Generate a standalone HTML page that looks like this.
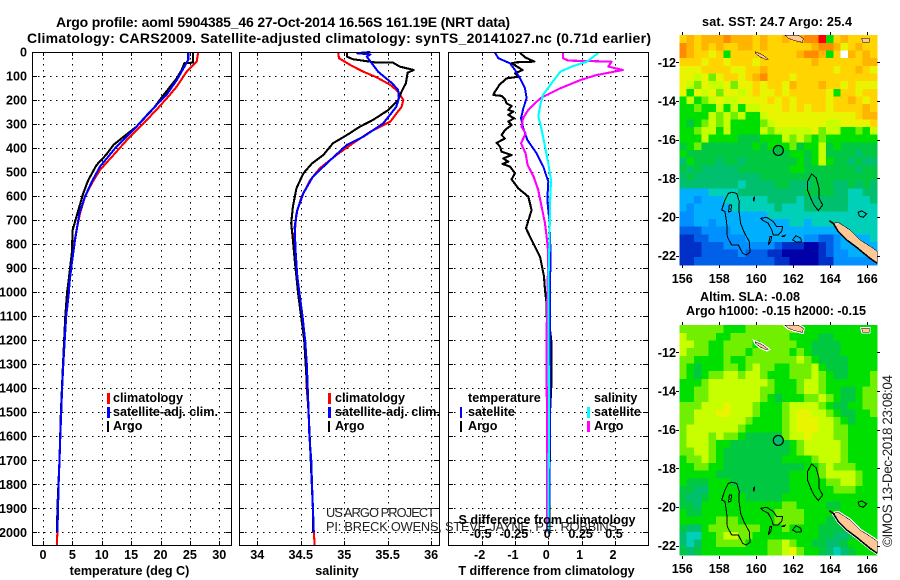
<!DOCTYPE html>
<html lang="en"><head><meta charset="utf-8"><title>Argo profile</title>
<style>
html,body{margin:0;padding:0;background:#fff}
svg{display:block}
text{font-family:"Liberation Sans",sans-serif;fill:#000}
.b{font-weight:bold;font-size:12.6px}
.t{font-weight:bold;font-size:14px}
.r{font-size:12.8px;fill:#222}
</style></head>
<body>
<svg id="chart" xmlns="http://www.w3.org/2000/svg" width="900" height="580" viewBox="0 0 900 580">
<text class="t" x="56" y="27" textLength="454">Argo profile: aoml 5904385_46 27-Oct-2014 16.56S 161.19E (NRT data)</text>
<text class="t" x="27" y="43" textLength="624">Climatology: CARS2009. Satellite-adjusted climatology: synTS_20141027.nc (0.71d earlier)</text>
<text class="b" x="129.5" y="575" text-anchor="middle">temperature (deg C)</text>
<text class="b" x="337" y="575" text-anchor="middle">salinity</text>
<text class="b" x="546.5" y="575" text-anchor="middle">T difference from climatology</text>
<g id="panels"></g>
<g id="maps"></g>
<text class="r" x="326" y="517" textLength="109">US ARGO PROJECT</text>
<text class="r" x="326" y="531" textLength="291">PI: BRECK OWENS, STEVE JAYNE, P.E. ROBBINS</text>
<text class="b" x="547" y="524" text-anchor="middle">S difference from climatology</text>
<g>
<rect x="107" y="393" width="3" height="11" fill="#f00"/><text class="b" x="113" y="402">climatology</text>
<rect x="107" y="407" width="3" height="11" fill="#00f"/><text class="b" x="113" y="416">satellite-adj. clim.</text>
<rect x="107" y="421" width="2" height="11" fill="#000"/><text class="b" x="113" y="430">Argo</text>
</g>
<g>
<rect x="328" y="393" width="3" height="11" fill="#f00"/><text class="b" x="335" y="402">climatology</text>
<rect x="328" y="407" width="3" height="11" fill="#00f"/><text class="b" x="335" y="416">satellite-adj. clim.</text>
<rect x="328" y="421" width="2" height="11" fill="#000"/><text class="b" x="335" y="430">Argo</text>
</g>
<g>
<text class="b" x="468" y="402">temperature</text>
<rect x="460" y="407" width="2" height="11" fill="#00f"/><text class="b" x="468" y="416">satellite</text>
<rect x="460" y="421" width="2" height="11" fill="#000"/><text class="b" x="468" y="430">Argo</text>
<text class="b" x="594" y="402">salinity</text>
<rect x="587" y="407" width="3" height="11" fill="#0ff"/><text class="b" x="594" y="416">satellite</text>
<rect x="587" y="421" width="3" height="11" fill="#f0f"/><text class="b" x="594" y="430">Argo</text>
</g>
<text class="b" x="777" y="26" text-anchor="middle" textLength="150">sat. SST: 24.7 Argo: 25.4</text>
<text class="b" x="750" y="301" text-anchor="middle" textLength="100">Altim. SLA: -0.08</text>
<text class="b" x="776" y="315" text-anchor="middle" textLength="180">Argo h1000: -0.15 h2000: -0.15</text>
<text x="0" y="0" font-size="13.5" transform="translate(892,547) rotate(-90)" textLength="172" style="fill:#222">©IMOS 13-Dec-2018 23:08:04</text>
</svg>
<script>
// ---------- profile data: depths in dbar ----------
const depthTicks = [0,100,200,300,400,500,600,700,800,900,1000,1100,1200,1300,1400,1500,1600,1700,1800,1900,2000];
const tempTicks = [0,5,10,15,20,25,30];
const salTicks = [34,34.5,35,35.5,36];
const salTickLabels = ['34','34.5','35','35.5','36'];
const dtTicks = [-2,-1,0,1,2];
const dsTicks = [-0.5,-0.25,0,0.25,0.5];
const dsTickLabels = ['-0.5','-0.25','0','0.25','0.5'];

const tempClimDepth = [0,40,82,144,186,241,297,360,429,491,547,602,672,755,838,963,1000,1100,1200,1300,1400,1500,1600,1700,1800,1900,2000,2053];
const tempClim = [26.4,26.15,24.45,22.75,21.3,19.3,17.1,14.5,12.0,9.7,8.3,7.15,6.3,5.6,5.05,4.5,4.3,3.9,3.7,3.45,3.25,3.05,2.95,2.8,2.65,2.55,2.45,2.35];
const tempSatDepth = [0,33,68,117,179,248,325,394,477,540,602,672,783,880,963,1000,1100,1200,1300,1400,1500,1600,1700,1800,1900,2000];
const tempSat = [24.7,24.7,23.9,22.75,21.0,18.2,15.4,12.5,9.7,8.3,7.15,6.2,5.45,4.9,4.5,4.4,3.95,3.7,3.45,3.25,3.1,2.95,2.8,2.65,2.55,2.45];
const tempArgoDepth = [0,44,47,75,110,172,235,311,353,387,429,471,533,588,672,741,838,963,1000,1100,1300,1500,1700,1900,2000];
const tempArgo = [25.5,25.5,24.05,23.6,22.75,20.75,18.8,15.9,13.7,12.0,10.7,9.1,7.7,6.85,5.85,5.05,4.9,4.3,4.1,3.8,3.4,3.05,2.8,2.45,2.4];

const salClimDepth = [0,26,54,82,105,137,165,200,228,290,332,380,429,484,533,602,672,755,825,922,1005,1100,1200,1300,1400,1500,1600,1700,1800,1900,2000,2053];
const salClim = [34.93,34.94,35.07,35.22,35.37,35.53,35.62,35.68,35.66,35.53,35.3,35.1,34.91,34.72,34.61,34.51,34.45,34.43,34.43,34.45,34.47,34.51,34.54,34.56,34.57,34.59,34.6,34.62,34.63,34.64,34.65,34.66];
const salSatDepth = [0,5,10,19,82,130,158,193,228,297,353,387,450,519,588,658,727,825,935,990,1100,1200,1300,1400,1500,1600,1700,1800,1900,2000];
const salSat = [35.3,35.15,35.3,35.26,35.39,35.55,35.62,35.63,35.6,35.45,35.22,35.03,34.84,34.64,34.53,34.46,34.43,34.44,34.46,34.48,34.52,34.55,34.57,34.58,34.59,34.6,34.62,34.63,34.64,34.65];
const salArgoDepth = [0,19,30,44,44,61,75,86,130,165,200,241,283,311,346,380,429,464,505,568,644,713,783,866,935,1005,1200,1500,1900,2000];
const salArgo = [35.03,35.03,35.1,35.37,35.56,35.64,35.8,35.73,35.71,35.66,35.62,35.51,35.33,35.18,35.03,34.87,34.76,34.63,34.53,34.45,34.41,34.39,34.41,34.43,34.45,34.47,34.54,34.59,34.64,34.64];

const dtArgoDepth = [3,22,40,43,47,75,89,103,110,137,151,165,179,183,197,214,225,241,248,262,276,290,304,325,346,360,378,394,415,429,443,457,466,477,505,530,568,602,658,734,783,852,935,991,1046,1102,1157,1213,1366,1500,2000];
const dtArgo = [-0.85,-0.7,-0.42,-0.95,-1.1,-0.77,-1.0,-0.9,-1.25,-1.47,-1.53,-1.6,-1.65,-1.4,-1.3,-1.25,-1.1,-1.2,-1.05,-1.2,-1.03,-1.2,-1.1,-1.3,-1.4,-1.3,-1.55,-1.45,-1.4,-1.1,-1.35,-1.2,-1.37,-1.15,-1.0,-1.1,-0.9,-0.6,-0.5,-0.67,-0.5,-0.25,-0.13,-0.1,-0.05,-0.05,0.05,0.1,0.1,0.05,0.03];
const dtSatDepth = [3,26,47,75,110,151,193,235,276,318,366,422,477,540,616,700,838,977,1546,2000];
const dtSat = [-1.6,-1.5,-1.15,-1.0,-0.85,-0.7,-0.65,-0.75,-0.82,-0.75,-0.63,-0.35,-0.15,0,-0.03,0.03,0.07,0.05,0.05,0.02];
const dsSatDepth = [3,19,40,61,82,130,179,221,269,311,394,464,533,644,769,977,1546,2000];
const dsSat = [0.375,0.34,0.29,0.175,0.09,0.025,-0.04,-0.06,-0.075,-0.055,-0.025,0,0.02,0.012,0.01,0,0.005,0];
const dsArgoDepth = [3,26,36,40,61,75,96,117,151,193,241,276,311,339,380,422,470,519,575,644,713,783,838,1143,2000];
const dsArgo = [0.11,0.11,0.15,0.475,0.45,0.56,0.36,0.24,0.09,-0.06,-0.15,-0.19,-0.2,-0.17,-0.205,-0.17,-0.155,-0.11,-0.075,-0.05,-0.025,-0.01,0,-0.012,-0.01];

// ---------- map data: one character per 0.4-degree cell, colour level 0..f, w = no data ----------
const sstRows = [
"cdcdddedddcdccdcdeef8cdcccc",
"edcdcdccddcdccccccdeedbcdcc",
"edccbc8cccccccccdeed8cwdcdc",
"cccbccbcccbcccccccdccccccdd",
"bbbccccbbccdcccccccccbccdcb",
"bbab9bccbcdecccbccccccccccc",
"ba9baab9bbcbccbdcccdccbcbbb",
"b8bab9bbabcbbcbcccccb8ccbcc",
"8a89abaabbbbcbcbccccbccdcbc",
"88988a8a8aabbbcbcbccbccccdc",
"8888a9a9a88abbbbbbbbbbbbcdd",
"8789a9a88889abbbbbbbaabbbbc",
"889aa8a8888a9aaaaab9aa8898a",
"888a8888777888a9a9898888888",
"789777777787888978 8a787777",
"877777777777777887 8a777767",
"687776776777777787 8a877676",
"767666667777777887 77777767",
"676666666667777777777777777",
"666666665666677666777667676",
"444455556666666667777665566",
"443444555555666656666665556",
"434444455555565556666665555",
"334444444444555555555555555",
"334434444444444554555555555",
"222333344444444444444455555",
"112233333444444443322344445",
"111222333333321110012344444",
"111222223222110000012334444",
"112222222222211000011333333"];
const slaRows = [
"999999888999999988888888888",
"a99998899999999888877888888",
"aa9988999989999988777788888",
"a99988999899999898777788888",
"9988889889999999a9877778888",
"9878889989a9988999a87778888",
"987899aa9aa9888999a98778889",
"8889aaaaaaaa98889aa98888889",
"8899aaaaaaa998889aa98877899",
"8899aaaaaaa98788899a9877899",
"999aaabaaa98889aaaa98778899",
"99aaabbaaa98889abbaa9877889",
"99aaaaaaa988889abbbaa987888",
"9aaaaaaa9888889abbbaa998888",
"9aaa9a998777779aabaaa998888",
"9aaa9887777777789aaaaa98888",
"99aa9877777777789aaaaa98888",
"899a987777777788889aaa98888",
"88998877777777777889a999888",
"88888777777777788889aaaa988",
"8777888777777778888899aa988",
"776688887777777888888999888",
"766788888777778888888888888",
"776888888888889988887788888",
"877888888888899998888888888",
"888889998888899998887778888",
"766899999998889888877778888",
"655889aa9988888888877667888",
"65688999988899a988776678888",
"76788888888899ab98876567888"];
const levelColors = {'0':'#0000a8','1':'#0030c8','2':'#0060e8','3':'#0090ff','4':'#00b0ff','5':'#00d0b8','6':'#00c070','7':'#00c840','8':'#00e000','9':'#70f000','a':'#c8ff00','b':'#e8f400','c':'#ffd400','d':'#ffb400','e':'#ff8c00','f':'#ff0000','w':'#ffffff'};
const lonTicks = [156,158,160,162,164,166];
const latTicks = [-12,-14,-16,-18,-20,-22];
const argoLon = 161.19, argoLat = -16.56;

const reefs = [
 [[158.67,-18.72],[158.94,-18.78],[159.08,-19.21],[159.06,-19.64],[159.15,-20.33],[159.33,-20.76],[159.62,-21.28],[159.66,-21.84],[159.44,-21.97],[159.26,-21.88],[159.03,-21.45],[158.67,-21.45],[158.43,-21.02],[158.40,-20.33],[158.31,-19.72],[158.13,-19.64],[158.31,-19.12],[158.49,-18.78]],
 [[158.54,-19.38],[158.67,-19.38],[158.62,-19.7],[158.5,-19.75]],
 [[160.23,-20.07],[160.56,-20.02],[160.92,-20.24],[161.10,-20.5],[161.42,-20.5],[161.37,-20.76],[161.19,-20.93],[160.92,-20.93],[160.83,-20.67],[160.65,-20.33],[160.38,-20.19]],
 [[160.65,-21.45],[160.74,-21.02],[160.83,-21.02],[160.78,-21.28]],
 [[161.96,-21.19],[162.14,-20.97],[162.40,-21.10],[162.45,-21.28],[162.18,-21.31]],
 [[162.99,-17.78],[163.23,-17.97],[163.39,-18.52],[163.39,-19.03],[163.59,-19.38],[163.35,-19.67],[163.12,-19.38],[162.94,-19.03],[162.76,-18.60],[162.77,-18.17]],
 [[165.51,-19.76],[165.69,-19.69],[165.96,-19.84],[165.78,-20.02],[165.57,-19.95]],
 [[159.83,-19.1],[159.9,-18.95],[159.88,-19.2]],
 [[161.4,-21.0],[161.55,-20.95],[161.5,-21.02]]
];
const lands = [
 [[164.16,-20.33],[164.43,-20.28],[165.06,-20.67],[165.60,-21.19],[166.32,-21.62],[166.54,-21.79],[166.54,-22.40],[166.14,-22.14],[165.42,-21.57],[164.88,-21.19],[164.43,-20.76]],
 [[161.55,-10.6],[162.27,-10.6],[162.54,-10.76],[162.5,-10.97],[162.09,-10.88],[161.73,-10.76]],
 [[159.93,-11.45],[160.29,-11.59],[160.65,-11.84],[160.56,-11.88],[160.2,-11.72],[159.96,-11.54]],
 [[165.7,-10.76],[166.1,-10.76],[166.1,-10.95],[165.75,-10.95]]
];
const darkCoast = [[163.95,-20.2],[164.16,-20.33],[164.43,-20.76],[164.88,-21.19],[165.42,-21.57],[166.14,-22.14],[166.54,-22.4]];

// ---------- axis functions ----------
const PT = 52, PB = 545;
const yDepth = d => PT + d * 0.24015;
const xTemp = v => 43 + v * 5.877;
const xSal = v => 257.3 + (v - 34) * 86.9;
const xDT = v => 548.3 + v * 33.33;
const xDS = v => 548.3 + v * 133.3;
const mapLon = lon => 682.3 + (lon - 156) * 18.5;

const NS = 'http://www.w3.org/2000/svg';
function mk(tag, parent, attrs) {
  const el = document.createElementNS(NS, tag);
  for (const k in attrs) el.setAttribute(k, attrs[k]);
  parent.appendChild(el);
  return el;
}
function label(parent, str, x, y, anchor, name) {
  const el = mk('text', parent, {x: x, y: y, 'text-anchor': anchor, class: 'b'});
  el.textContent = str;
  
  
  return el;
}
function seg(parent, x1, y1, x2, y2, dash, name) {
  const el = mk('line', parent, {x1: x1, y1: y1, x2: x2, y2: y2, stroke: '#000', 'stroke-width': 1, 'shape-rendering': 'crispEdges'});
  if (dash) el.setAttribute('stroke-dasharray', '1.5 4.5');
  
  
  return el;
}
function profile(parent, depths, values, xf, color, width, name) {
  const pts = depths.map((d, i) => xf(values[i]).toFixed(1) + ',' + yDepth(d).toFixed(1)).join(' ');
  const el = mk('polyline', parent, {points: pts, fill: 'none', stroke: color, 'stroke-width': width, 'stroke-linejoin': 'round', 'shape-rendering': 'crispEdges'});
  
  
  return el;
}
const panelsG = document.getElementById('panels');
function panel(left, right, xticks, xf, name) {
  const g = mk('g', panelsG, {});
  
  
  depthTicks.forEach(d => {
    const y = Math.round(yDepth(d)) + 0.5;
    seg(g, left, y, right, y, true, 'depth-gridline');
    seg(g, left, y, left + 5, y, false, 'depth-tick');
    seg(g, right - 5, y, right, y, false, 'depth-tick');
  });
  xticks.forEach(v => {
    const x = Math.round(xf(v)) + 0.5;
    seg(g, x, PT, x, PB, true, 'x-gridline');
    seg(g, x, PB - 4, x, PB, false, 'x-tick');
    seg(g, x, PT, x, PT + 4, false, 'x-tick');
  });
  return g;
}
function frame(parent, left, right) {
  const el = mk('rect', parent, {x: left + 0.5, y: PT + 0.5, width: right - left, height: PB - PT, fill: 'none', stroke: '#000', 'stroke-width': 1, 'shape-rendering': 'crispEdges'});
  
  
}

// temperature panel
const p1 = panel(32, 231, tempTicks, xTemp, 'temperature-panel');
profile(p1, tempClimDepth, tempClim, xTemp, '#f00', 2.1, 'temperature-climatology-line');
profile(p1, tempArgoDepth, tempArgo, xTemp, '#000', 2.1, 'temperature-argo-line');
profile(p1, tempSatDepth, tempSat, xTemp, '#00f', 2.1, 'temperature-satellite-line');
frame(p1, 32, 231);
depthTicks.forEach(d => label(p1, String(d), 27, yDepth(d) + 4.5, 'end', 'depth-tick-label'));
tempTicks.forEach(v => label(p1, String(v), xTemp(v), 559, 'middle', 'temperature-tick-label'));

// salinity panel
const p2 = panel(239, 439, salTicks, xSal, 'salinity-panel');
profile(p2, salClimDepth, salClim, xSal, '#f00', 2.1, 'salinity-climatology-line');
profile(p2, salArgoDepth, salArgo, xSal, '#000', 2.1, 'salinity-argo-line');
profile(p2, salSatDepth, salSat, xSal, '#00f', 2.1, 'salinity-satellite-line');
frame(p2, 239, 439);
salTicks.forEach((v, i) => label(p2, salTickLabels[i], xSal(v), 559, 'middle', 'salinity-tick-label'));

// difference panel
const p3 = panel(448, 648, dtTicks, xDT, 'difference-panel');
profile(p3, dtArgoDepth, dtArgo, xDT, '#000', 2.1, 't-difference-argo-line');
profile(p3, dtSatDepth, dtSat, xDT, '#00f', 2, 't-difference-satellite-line');
profile(p3, dsArgoDepth, dsArgo, xDS, '#f0f', 2.1, 's-difference-argo-line');
profile(p3, dsSatDepth, dsSat, xDS, '#0ff', 2.1, 's-difference-satellite-line');
frame(p3, 448, 648);
dtTicks.forEach(v => label(p3, String(v), xDT(v) - 2, 559, 'middle', 't-difference-tick-label'));
dsTicks.forEach((v, i) => label(p3, dsTickLabels[i], xDS(v) - 1, 538, 'middle', 's-difference-tick-label'));

// maps
const mapsG = document.getElementById('maps');
const lonStart = 155.84, cellDeg = 10.7 / 27, latStart = -10.6, cellDegLat = 11.88 / 30;
function drawMap(rows, latOf, bottomPx, name, whiteCoast, labelY, markerFill) {
  const g = mk('g', mapsG, {});
  
  
  rows.forEach((row, r) => {
    const clean = row.replace(/ /g, '');
    for (let c = 0; c < 27; c++) {
      const ch = clean[Math.min(c, clean.length - 1)];
      const x0 = mapLon(lonStart + c * cellDeg), x1 = mapLon(lonStart + (c + 1) * cellDeg);
      const y0 = latOf(latStart - r * cellDegLat), y1 = latOf(latStart - (r + 1) * cellDegLat);
      const cell = mk('rect', g, {x: x0.toFixed(1), y: y0.toFixed(1), width: (x1 - x0 + 0.4).toFixed(1), height: (y1 - y0 + 0.4).toFixed(1), fill: levelColors[ch], 'shape-rendering': 'crispEdges'});
      
      
    }
  });
  const toPts = poly => poly.map(p => mapLon(p[0]).toFixed(1) + ',' + latOf(p[1]).toFixed(1)).join(' ');
  lands.forEach(poly => {
    if (whiteCoast) {
      const halo = mk('polygon', g, {points: toPts(poly), fill: 'none', stroke: '#fff', 'stroke-width': 3, 'shape-rendering': 'crispEdges'});
      
      
    }
    const land = mk('polygon', g, {points: toPts(poly), fill: '#ffc896', stroke: '#000', 'stroke-width': 0.5, 'shape-rendering': 'crispEdges'});
    
    
  });
  const coast = mk('polyline', g, {points: toPts(darkCoast), fill: 'none', stroke: '#000', 'stroke-width': 1.6, 'shape-rendering': 'crispEdges'});
  
  
  reefs.forEach(poly => {
    const reef = mk('polygon', g, {points: toPts(poly), fill: 'none', stroke: '#000', 'stroke-width': 1, 'shape-rendering': 'crispEdges'});
    
    
  });
  const marker = mk('circle', g, {cx: mapLon(argoLon), cy: latOf(argoLat), r: 5, fill: markerFill, stroke: '#000', 'stroke-width': 1.2});
  
  
  const topPx = latOf(latStart);
  lonTicks.forEach(lon => {
    const x = Math.round(mapLon(lon)) + 0.5;
    seg(g, x, topPx - 3, x, topPx, false, 'lon-tick');
    seg(g, x, bottomPx, x, bottomPx + 3, false, 'lon-tick');
    label(g, String(lon), mapLon(lon), labelY, 'middle', 'longitude-tick-label');
  });
  latTicks.forEach(lat => {
    const y = Math.round(latOf(lat)) + 0.5;
    seg(g, 676, y, 679, y, false, 'lat-tick');
    seg(g, 877, y, 880, y, false, 'lat-tick');
    label(g, String(lat), 676, latOf(lat) + 4.5, 'end', 'latitude-tick-label');
  });
}
drawMap(sstRows, lat => 62.3 + (-12 - lat) * 19.33, 265, 'sst-map', false, 283, '#00c048');
drawMap(slaRows, lat => 352.3 + (-12 - lat) * 19.33, 556, 'sla-map', true, 573, '#00c070');
</script>
</body></html>
